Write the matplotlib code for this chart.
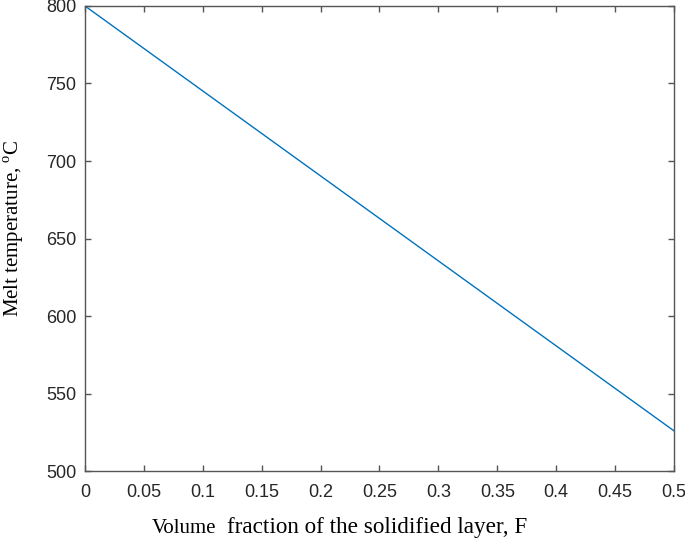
import numpy as np
import matplotlib
matplotlib.use("Agg")
import matplotlib.pyplot as plt

plt.rcParams["mathtext.fontset"] = "custom"
plt.rcParams["mathtext.rm"] = "Liberation Serif"

# datos
F = [0.0, 0.5]                 # fraccion volumetrica
T_melt = [800.0, 526.0]        # temperatura de fusion, C

xticks = [0, 0.05, 0.1, 0.15, 0.2, 0.25, 0.3, 0.35, 0.4, 0.45, 0.5]
xticklabels = ["0", "0.05", "0.1", "0.15", "0.2", "0.25", "0.3", "0.35", "0.4", "0.45", "0.5"]
yticks = [500, 550, 600, 650, 700, 750, 800]

borde = "#555555"
texto = "#262626"

fig = plt.figure(figsize=(6.85, 5.41), dpi=100)
ax = fig.add_axes([0.124, 0.129, 0.86, 0.86])

ax.plot(F, T_melt, color="#0072bd", linewidth=1.0)

ax.set_xlim(0, 0.5)
ax.set_ylim(500, 800)
ax.set_xticks(xticks)
ax.set_xticklabels(xticklabels)
ax.set_yticks(yticks)

for s in ax.spines.values():
    s.set_color(borde)
    s.set_linewidth(1.0)

ax.tick_params(direction="in", top=True, right=True, length=4.5, width=1.0,
               color=borde, labelcolor=texto, labelsize=13)
ax.tick_params(axis="x", pad=9)
ax.tick_params(axis="y", pad=6)
for lab in ax.get_xticklabels() + ax.get_yticklabels():
    lab.set_family("Liberation Sans")

# etiqueta eje x con "Volume" mas pequeño
fig.text(152 / 685, 1 - 533 / 541, "Volume", family="Liberation Serif", fontsize=15,
         ha="left", va="baseline", color="black")
fig.text(227 / 685, 1 - 533 / 541, "fraction of the solidified layer, F", family="Liberation Serif",
         fontsize=16.7, ha="left", va="baseline", color="black")

# etiqueta eje y
fig.text(14 / 685, 1 - 228 / 541, "Melt temperature, $^{\\rm o}$C", family="Liberation Serif",
         fontsize=15, rotation=90, ha="center", va="center", color="black")

fig.savefig("out.png", dpi=100)
